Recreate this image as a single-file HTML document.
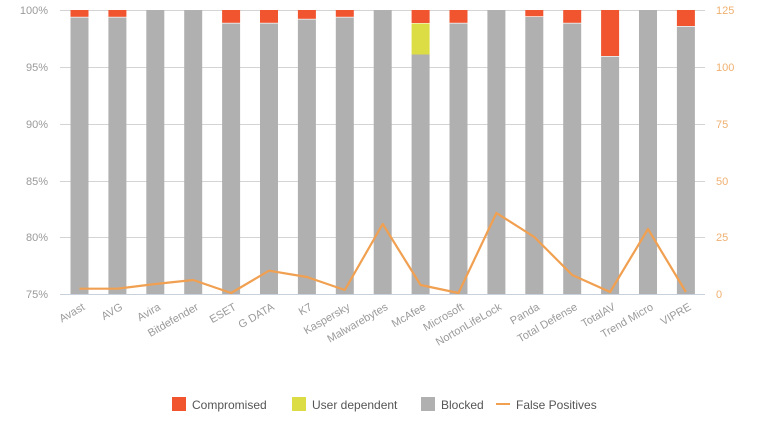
<!DOCTYPE html>
<html><head><meta charset="utf-8"><style>
body{margin:0;background:#fff;}
svg text{font-family:"Liberation Sans",sans-serif;}
</style></head><body>
<svg width="760" height="428" viewBox="0 0 760 428" xmlns="http://www.w3.org/2000/svg">
<g stroke="#d4d4d4" stroke-width="1">
<line x1="60" y1="10.5" x2="705" y2="10.5"/>
<line x1="60" y1="67.5" x2="705" y2="67.5"/>
<line x1="60" y1="124.5" x2="705" y2="124.5"/>
<line x1="60" y1="181.5" x2="705" y2="181.5"/>
<line x1="60" y1="237.5" x2="705" y2="237.5"/>
<line x1="60" y1="294.5" x2="705" y2="294.5" stroke="#c8d0dc"/>
</g>
<g font-size="11" fill="#9a9a9a" text-anchor="end">
<text x="48" y="14">100%</text><text x="48" y="71">95%</text><text x="48" y="128">90%</text>
<text x="48" y="185">85%</text><text x="48" y="241">80%</text><text x="48" y="298">75%</text>
</g>
<g font-size="11" fill="#f0b070" text-anchor="start">
<text x="716" y="14">125</text><text x="716" y="71">100</text><text x="716" y="128">75</text>
<text x="716" y="185">50</text><text x="716" y="241">25</text><text x="716" y="298">0</text>
</g>
<g id="bars"></g>
<polyline fill="none" stroke="#f0a050" stroke-width="2.2" stroke-linejoin="round" points="79.5,288.7 117.4,288.7 155.3,284 193.2,280 231.1,293 269,270.7 306.9,277 344.8,290 382.7,224 420.6,285 458.5,293 496.4,213 534.3,237 572.2,275 610.1,292 648,229 685.9,292"/>
<g font-size="11" fill="#9a9a9a" text-anchor="end" id="labels"></g>
<g font-size="12" fill="#555">
<rect x="172" y="397" width="14" height="14" fill="#f05530"/><text x="192" y="409">Compromised</text>
<rect x="292" y="397" width="14" height="14" fill="#dcdc44"/><text x="312" y="409">User dependent</text>
<rect x="421" y="397" width="14" height="14" fill="#b0b0b0"/><text x="441" y="409">Blocked</text>
<line x1="496" y1="404" x2="510" y2="404" stroke="#f0a050" stroke-width="2"/><text x="516" y="409">False Positives</text>
</g>
<script>
var names=["Avast","AVG","Avira","Bitdefender","ESET","G DATA","K7","Kaspersky","Malwarebytes","McAfee","Microsoft","NortonLifeLock","Panda","Total Defense","TotalAV","Trend Micro","VIPRE"];
var blk=[17.5,17.5,10,10,23.5,23.5,19.5,17.5,10,54.5,23.5,10,17,23.5,56.7,10,26.7];
var g=document.getElementById("bars"),l=document.getElementById("labels"),ns="http://www.w3.org/2000/svg";
function r(x,y,h,c){var e=document.createElementNS(ns,"rect");e.setAttribute("x",x);e.setAttribute("y",y);e.setAttribute("width",18);e.setAttribute("height",h);e.setAttribute("fill",c);g.appendChild(e);}
for(var i=0;i<17;i++){var cx=79.5+i*37.9,x=cx-9;
r(x,blk[i],294-blk[i],"#b0b0b0");
if(i==9){r(x,10,13,"#f05530");r(x,23.5,31,"#dcdc44");}
else if(blk[i]>10){r(x,10,blk[i]-10.7,"#f05530");}
var t=document.createElementNS(ns,"text");t.setAttribute("transform","translate("+(cx+6)+",309) rotate(-30)");t.textContent=names[i];l.appendChild(t);}
</script>
</svg>
</body></html>
